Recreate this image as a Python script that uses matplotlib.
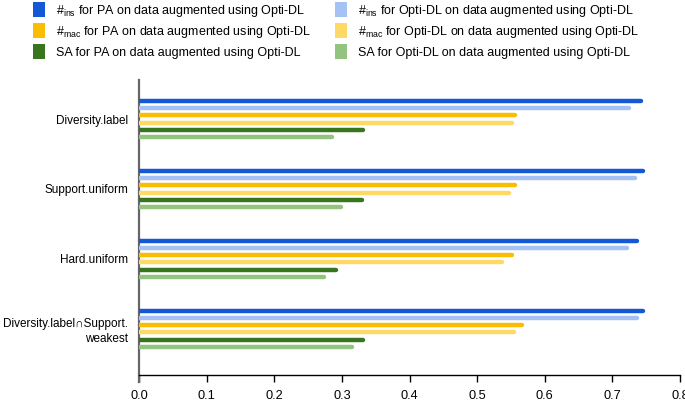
import matplotlib
matplotlib.use("Agg")
import matplotlib.pyplot as plt
from matplotlib.patches import Patch
import numpy as np

plt.rcParams['font.family'] = ['Liberation Sans', 'DejaVu Sans']
plt.rcParams['mathtext.fontset'] = 'custom'
plt.rcParams['mathtext.rm'] = 'Liberation Sans'
plt.rcParams['mathtext.it'] = 'Liberation Sans'

categories = ["Diversity.label", "Support.uniform", "Hard.uniform",
              "Diversity.label\u2229Support.\nweakest"]

ins_pa = [0.743, 0.745, 0.737, 0.745]
ins_opti = [0.725, 0.734, 0.722, 0.737]
mac_pa = [0.556, 0.556, 0.551, 0.567]
mac_opti = [0.551, 0.547, 0.537, 0.554]
sa_pa = [0.331, 0.330, 0.291, 0.331]
sa_opti = [0.286, 0.299, 0.274, 0.315]

series = [ins_pa, ins_opti, mac_pa, mac_opti, sa_pa, sa_opti]
colors = ["#1558d6", "#a4c2f4", "#fbbc04", "#ffd966", "#38761d", "#93c47d"]
labels = [r"#$_{\rm ins}$ for PA on data augmented using Opti-DL",
          r"#$_{\rm ins}$ for Opti-DL on data augmented using Opti-DL",
          r"#$_{\rm mac}$ for PA on data augmented using Opti-DL",
          r"#$_{\rm mac}$ for Opti-DL on data augmented using Opti-DL",
          "SA for PA on data augmented using Opti-DL",
          "SA for Opti-DL on data augmented using Opti-DL"]

fig = plt.figure(figsize=(6.85, 4.01), dpi=100)
ax = fig.add_axes([139 / 685, 1 - 375 / 401, 541 / 685, 295 / 401])

pos = np.arange(len(categories))
step = 0.103
for j, (vals, c) in enumerate(zip(series, colors)):
    ax.hlines(pos - 2.5 * step + j * step, 0, vals, colors=c,
              linewidth=3.2, capstyle='round', zorder=3)

ax.set_xlim(0, 0.8)
ax.set_ylim(3.662, -0.558)
ax.set_xticks(np.arange(0, 0.81, 0.1))
ax.set_xticklabels([f"{v:.1f}" for v in np.arange(0, 0.81, 0.1)])
ax.set_yticks(pos)
ax.set_yticklabels(categories, ha='right', linespacing=1.3)
ax.tick_params(axis='y', length=0, pad=8, labelsize=8.5)
ax.tick_params(axis='x', length=5, width=1, pad=6, labelsize=9.2)

for s in ['top', 'right']:
    ax.spines[s].set_visible(False)
ax.spines['left'].set_color('#666666')
ax.spines['left'].set_linewidth(1.6)
ax.spines['left'].set_bounds(3.76, -0.558)
ax.spines['bottom'].set_linewidth(1.0)

handles = [Patch(facecolor=c, edgecolor='none') for c in colors]
leg_kw = dict(frameon=False, fontsize=9.0, handlelength=0.95, handleheight=1.45,
              handletextpad=0.9, labelspacing=0.36, borderaxespad=0, borderpad=0)
leg1 = fig.legend(handles[0::2], labels[0::2], loc='upper left',
                  bbox_to_anchor=(33 / 685, 1 - 2 / 401), **leg_kw)
leg2 = fig.legend(handles[1::2], labels[1::2], loc='upper left',
                  bbox_to_anchor=(335 / 685, 1 - 2 / 401), **leg_kw)

fig.savefig("out.png", dpi=100)
